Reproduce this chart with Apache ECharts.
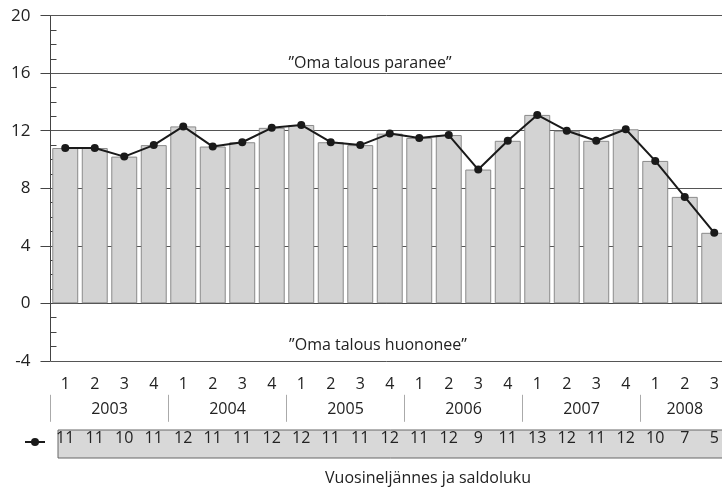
<!DOCTYPE html>
<html><head><meta charset="utf-8">
<script src="https://cdn.jsdelivr.net/npm/echarts@6/dist/echarts.min.js"></script>
<style>html,body{margin:0;padding:0;background:#fff}#c{width:722px;height:489px}</style>
</head><body><div id="c"></div><script>
// ---- data ----
const quarters = ['1','2','3','4','1','2','3','4','1','2','3','4','1','2','3','4','1','2','3','4','1','2','3'];
const years = ['2003','2004','2005','2006','2007','2008'];
const quartersPerYear = [4,4,4,4,4,3];
const balance = [10.8,10.8,10.2,11.0,12.3,10.9,11.2,12.2,12.4,11.2,11.0,11.8,11.5,11.7,9.3,11.3,13.1,12.0,11.3,12.1,9.9,7.4,4.9];
const tableLabels = ['11','11','10','11','12','11','11','12','12','11','11','12','11','12','9','11','13','12','11','12','10','7','5'];
const yTicks = [-4,0,4,8,12,16,20];
const noteUp = '\u201DOma talous paranee\u201D';
const noteDown = '\u201DOma talous huononee\u201D';
const axisTitle = 'Vuosineljännes ja saldoluku';

// ---- build ----
const FONT = '"Open Sans", "Noto Sans", sans-serif';
const TXT = '#222';
const nQ = quarters.length;
const yearCenters = [];
let acc = 0;
quartersPerYear.forEach(n => { yearCenters.push(acc + n / 2); acc += n; });

const chart = echarts.init(document.getElementById('c'), null, {renderer: 'canvas'});
const yMin = yTicks[0], yMax = yTicks[yTicks.length - 1], yStep = yTicks[1] - yTicks[0];

chart.setOption({
  animation: false,
  backgroundColor: '#fff',
  textStyle: {fontFamily: FONT},
  grid: {left: 50.5, width: 678.5, top: 15.7, height: 345.1, containLabel: false, outerBoundsMode: 'none'},
  legend: {
    data: ['saldoluku'], left: 19, top: 432, itemWidth: 20, itemHeight: 10,
    formatter: () => '', itemGap: 0, selectedMode: false
  },
  xAxis: [
    { type: 'category', data: quarters, position: 'bottom',
      axisLine: {show: true, lineStyle: {color: '#444', width: 1}},
      axisTick: {show: false},
      axisLabel: {interval: 0, fontSize: 16, color: TXT, margin: 16, fontFamily: FONT} },
    { type: 'value', min: 0, max: nQ, interval: 0.5, position: 'bottom', offset: 33,
      axisLine: {show: false}, axisTick: {show: false}, splitLine: {show: false},
      axisLabel: {fontSize: 16, color: TXT, margin: 8, fontFamily: FONT, showMinLabel: true, showMaxLabel: true,
        formatter: v => { const i = yearCenters.indexOf(v); return i >= 0 ? years[i] : ''; } } },
    { type: 'value', min: 0, max: nQ, interval: quartersPerYear[0], position: 'bottom', offset: 34,
      axisLine: {show: false}, splitLine: {show: false}, axisLabel: {show: false},
      axisTick: {show: true, length: 27, lineStyle: {color: '#aaa', width: 1}} },
    { type: 'category', data: tableLabels, position: 'bottom', offset: 62,
      axisLine: {show: false}, axisTick: {show: false},
      axisLabel: {interval: 0, fontSize: 16, color: TXT, margin: 8, fontFamily: FONT} }
  ],
  yAxis: [
    { type: 'value', min: yMin, max: yMax, interval: yStep,
      axisLine: {show: true, lineStyle: {color: '#444', width: 1}},
      axisTick: {show: true, length: 10, lineStyle: {color: '#444'}},
      splitLine: {show: true, lineStyle: {color: '#555', width: 1}},
      axisLabel: {fontSize: 17, color: TXT, margin: 20, fontFamily: FONT} },
    { type: 'value', min: yMin, max: yMax, interval: yStep, position: 'left',
      axisLine: {show: false}, axisTick: {show: false, inside: true},
      minorTick: {show: true, splitNumber: 4, length: 6, lineStyle: {color: '#444', width: 1}},
      splitLine: {show: false}, axisLabel: {show: false} }
  ],
  graphic: [
    { type: 'rect', z: -1, shape: {x: 58, y: 430, width: 700, height: 28},
      style: {fill: '#d8d8d8', stroke: '#666', lineWidth: 1} },
    { type: 'text', x: 370, y: 63, style: {text: noteUp, font: '16px ' + FONT, fill: TXT, align: 'center', verticalAlign: 'middle'} },
    { type: 'text', x: 378, y: 345, style: {text: noteDown, font: '16px ' + FONT, fill: TXT, align: 'center', verticalAlign: 'middle'} },
    { type: 'text', x: 428, y: 478, style: {text: axisTitle, font: '16px ' + FONT, fill: TXT, align: 'center', verticalAlign: 'middle'} }
  ],
  series: [
    { type: 'bar', name: 'bars', data: balance, xAxisIndex: 0, yAxisIndex: 0, barCategoryGap: '12%',
      itemStyle: {color: '#d3d3d3', borderColor: '#8a8a8a', borderWidth: 1}, z: 2 },
    { type: 'line', name: 'saldoluku', data: balance, xAxisIndex: 0, yAxisIndex: 0,
      symbol: 'circle', symbolSize: 8, z: 3,
      lineStyle: {color: '#1a1a1a', width: 2}, itemStyle: {color: '#1a1a1a'} }
  ]
});
</script></body></html>
